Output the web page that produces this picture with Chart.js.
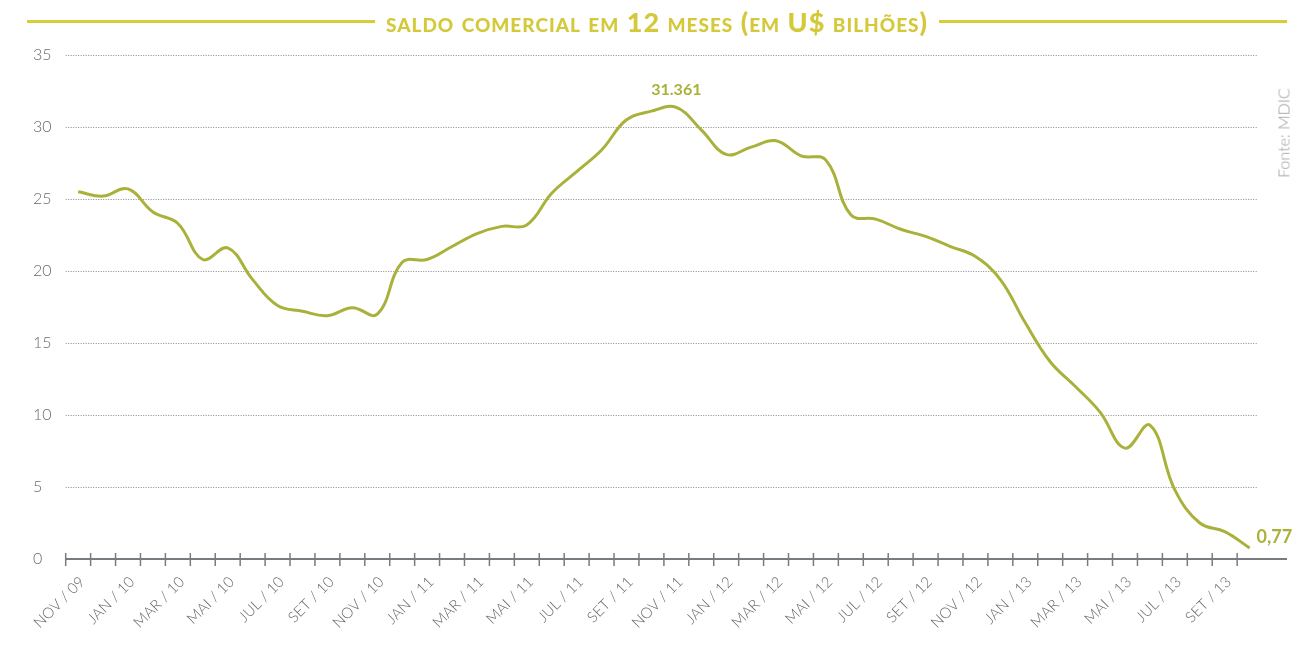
<!DOCTYPE html>
<html>
<head>
<meta charset="utf-8">
<script src="https://cdn.jsdelivr.net/npm/chart.js@4.4.0/dist/chart.umd.min.js"></script>
<style>
  html, body { margin: 0; padding: 0; background: #fff; }
  #wrap { position: relative; width: 1312px; height: 645px; }
  #title {
    position: absolute; left: 27px; top: 6px; width: 1260px; height: 30px;
    display: flex; align-items: center; gap: 11px;
  }
  #title .rule { flex: 1; height: 3px; background: #d6cc3c; }
  #title span {
    font-family: Lato, "Open Sans", sans-serif; font-weight: 900; font-size: 27px;
    font-variant: small-caps; color: #d4c93a; white-space: nowrap; letter-spacing: 1px;
  }
  #fonte {
    position: absolute; left: 1283px; top: 133px;
    transform: translate(-50%, -50%) rotate(-90deg);
    font-family: Lato, "Open Sans", sans-serif; font-weight: 300; font-size: 16px; color: #999;
    white-space: nowrap;
  }
</style>
</head>
<body>
<div id="wrap">
  <canvas id="saldoChart" width="1312" height="645"></canvas>
  <div id="title"><div class="rule"></div><span>saldo comercial em 12 meses (em U$ bilhões)</span><div class="rule"></div></div>
  <div id="fonte">Fonte: MDIC</div>
</div>
<script>
const months = ['NOV / 09', 'DEZ / 09',
  'JAN / 10', 'FEV / 10', 'MAR / 10', 'ABR / 10', 'MAI / 10', 'JUN / 10', 'JUL / 10', 'AGO / 10', 'SET / 10', 'OUT / 10', 'NOV / 10', 'DEZ / 10',
  'JAN / 11', 'FEV / 11', 'MAR / 11', 'ABR / 11', 'MAI / 11', 'JUN / 11', 'JUL / 11', 'AGO / 11', 'SET / 11', 'OUT / 11', 'NOV / 11', 'DEZ / 11',
  'JAN / 12', 'FEV / 12', 'MAR / 12', 'ABR / 12', 'MAI / 12', 'JUN / 12', 'JUL / 12', 'AGO / 12', 'SET / 12', 'OUT / 12', 'NOV / 12', 'DEZ / 12',
  'JAN / 13', 'FEV / 13', 'MAR / 13', 'ABR / 13', 'MAI / 13', 'JUN / 13', 'JUL / 13', 'AGO / 13', 'SET / 13', 'OUT / 13'];
// one empty slot at the end, the axis runs a bit past the last month
const categories = months.concat(['']);

const saldo = [25.5, 25.2, 25.7, 24.1, 23.3, 20.8, 21.6, 19.4, 17.6, 17.2, 16.9, 17.45,
  17.0, 20.6, 20.8, 21.7, 22.6, 23.1, 23.2, 25.4, 26.9, 28.4, 30.5, 31.1,
  31.361, 29.8, 28.1, 28.6, 29.05, 28.0, 27.7, 23.9, 23.6, 22.9, 22.4, 21.7,
  21.0, 19.4, 16.4, 13.7, 12.0, 10.2, 7.7, 9.3, 4.8, 2.5, 1.9, 0.77];

const yTicks = [0, 5, 10, 15, 20, 25, 30, 35];

// labelled points: index -> text
const callouts = [
  { index: 24, text: '31.361', size: 16, dx: 0, dy: -18, align: 'center' },
  { index: 47, text: '0,77', size: 18, dx: 7, dy: -11, align: 'left' },
];

const olive = '#a9b13a';

const axisDecor = {
  id: 'axisDecor',
  beforeDatasetsDraw(chart) {
    const { ctx, chartArea, scales: { x, y } } = chart;
    ctx.save();
    // dotted horizontal lines
    ctx.strokeStyle = '#8a8a8a';
    ctx.lineWidth = 1;
    ctx.setLineDash([1, 1.5]);
    yTicks.forEach(v => {
      if (v === 0) return;
      const py = Math.round(y.getPixelForValue(v)) + 0.5;
      ctx.beginPath();
      ctx.moveTo(chartArea.left, py);
      ctx.lineTo(chartArea.right - 30, py);
      ctx.stroke();
    });
    ctx.setLineDash([]);
    // base line with month tick marks
    const base = y.getPixelForValue(0);
    ctx.strokeStyle = '#777c80';
    ctx.lineWidth = 2;
    ctx.beginPath();
    ctx.moveTo(chartArea.left, base);
    ctx.lineTo(chartArea.right, base);
    ctx.stroke();
    const half = (x.getPixelForValue(1) - x.getPixelForValue(0)) / 2;
    ctx.lineWidth = 1.5;
    for (let i = 0; i < months.length; i++) {
      const px = x.getPixelForValue(i) - half;
      ctx.beginPath();
      ctx.moveTo(px, base - 6);
      ctx.lineTo(px, base + 7);
      ctx.stroke();
    }
    ctx.restore();
  },
  afterDatasetsDraw(chart) {
    const { ctx, scales: { x, y } } = chart;
    ctx.save();
    ctx.fillStyle = olive;
    ctx.textBaseline = 'middle';
    callouts.forEach(c => {
      ctx.font = `700 ${c.size}px Lato, "Open Sans", sans-serif`;
      ctx.textAlign = c.align;
      ctx.fillText(c.text, x.getPixelForValue(c.index) + c.dx, y.getPixelForValue(saldo[c.index]) + c.dy);
    });
    ctx.restore();
  }
};

const ctx = document.getElementById('saldoChart').getContext('2d');
new Chart(ctx, {
  type: 'line',
  data: {
    labels: categories,
    datasets: [{
      label: 'Saldo comercial em 12 meses',
      data: saldo,
      borderColor: olive,
      borderWidth: 3,
      pointRadius: 0,
      tension: 0.4,
      fill: false,
    }],
  },
  options: {
    responsive: false,
    animation: false,
    layout: { padding: { left: 33, right: 25, top: 55, bottom: 0 } },
    plugins: {
      legend: { display: false },
      title: { display: false },
      tooltip: { enabled: false },
    },
    scales: {
      x: {
        type: 'category',
        offset: true,
        grid: { display: false },
        border: { display: false },
        afterFit: (scale) => { scale.height = 86; },
        ticks: {
          autoSkip: false,
          maxRotation: 45,
          minRotation: 45,
          padding: 6,
          labelOffset: 4,
          color: '#6a6a6a',
          font: { family: 'Lato, "Open Sans", sans-serif', weight: '300', size: 15 },
          callback: (value, index) => (index % 2 === 0 ? categories[index] : ''),
        },
      },
      y: {
        min: 0,
        max: 35,
        afterFit: (scale) => { scale.width = 32.7; },
        afterBuildTicks: (scale) => { scale.ticks = yTicks.map(v => ({ value: v })); },
        grid: { display: false },
        border: { display: false },
        ticks: {
          crossAlign: 'far',
          color: '#6a6a6a',
          font: { family: 'Lato, "Open Sans", sans-serif', weight: '300', size: 16 },
        },
      },
    },
  },
  plugins: [axisDecor],
});
</script>
</body>
</html>
